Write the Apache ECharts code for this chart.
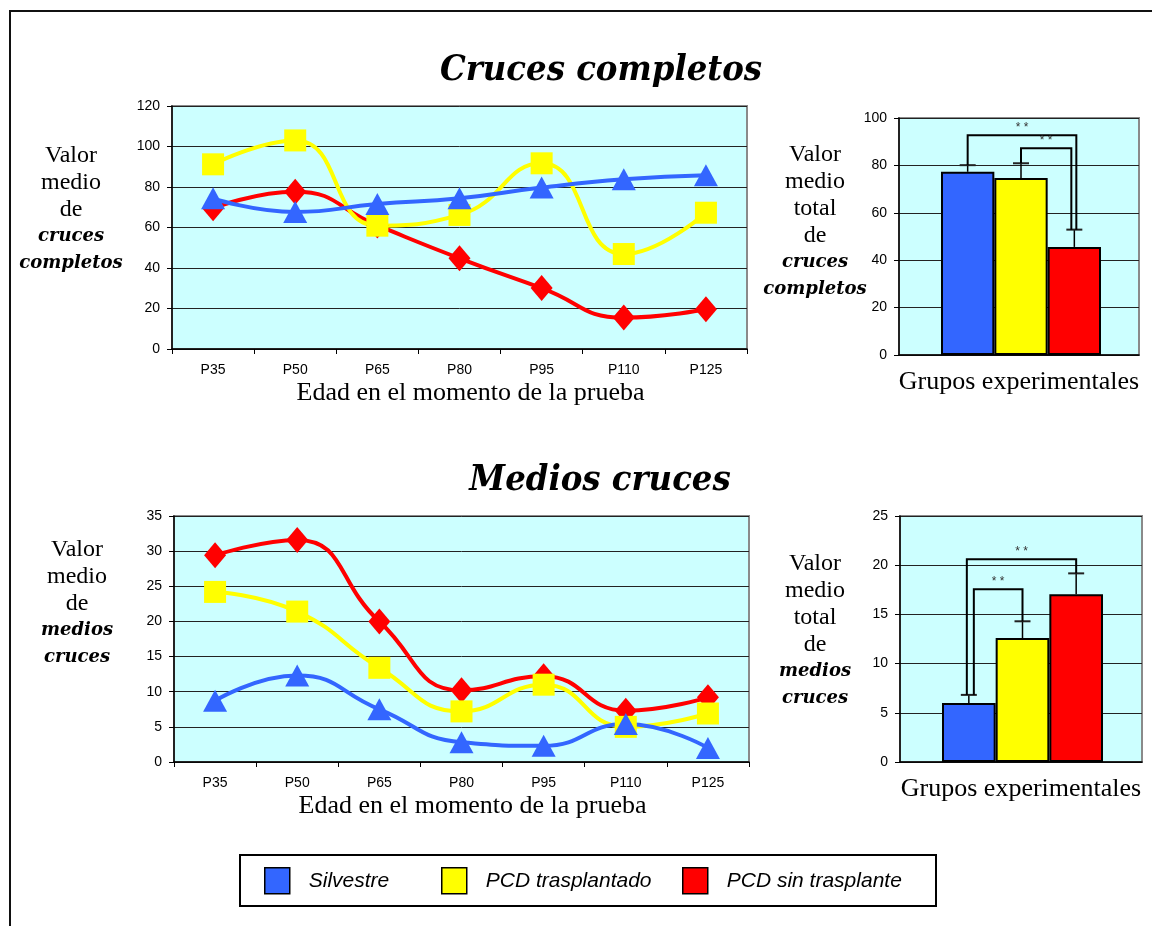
<!DOCTYPE html>
<html>
<head>
<meta charset="utf-8">
<script src="https://cdn.jsdelivr.net/npm/echarts@6/dist/echarts.min.js"></script>
<style>html,body{margin:0;padding:0;background:#fff}#c{width:1152px;height:926px}</style>
</head>
<body>
<div id="c"></div>
<script>
// ---- data ----
const categories = ['P35', 'P50', 'P65', 'P80', 'P95', 'P110', 'P125'];
const groups = ['Silvestre', 'PCD trasplantado', 'PCD sin trasplante'];

const completosSilvestre = [74.4, 67.7, 71.6, 74.4, 79.7, 83.8, 85.8];
const completosTrasplantado = [91.2, 103, 60.9, 66.2, 91.7, 46.9, 67.3];
const completosSinTrasplante = [69.5, 77.7, 61, 44.8, 30.1, 15.5, 19.6];

const mediosSilvestre = [8.7, 12.3, 7.5, 2.8, 2.3, 5.4, 2.0];
const mediosTrasplantado = [24.2, 21.4, 13.4, 7.2, 11.0, 5.0, 6.9];
const mediosSinTrasplante = [29.4, 31.6, 20.0, 10.2, 12.2, 7.3, 9.2];

const totalCompletos = [77.3, 74.7, 45.6];
const errorCompletos = [2.8, 6.2, 7.3];
const totalMedios = [6.0, 12.6, 17.05];
const errorMedios = [0.82, 1.7, 2.12];

// significance brackets: [fromGroup, toGroup, levelValue]
const bracketsCompletos = [[0, 2, 92.7], [1, 2, 87.2]];
const bracketsMedios = [[0, 2, 20.6], [0, 1, 17.55]];

// ---- styles ----
const colors = ['#3366FF', '#FFFF00', '#FF0000'];
const symbols = [['triangle', [24, 22]], ['rect', 22], ['diamond', [22, 26]]];
const bgColor = '#CCFFFF';
const serif = 'Liberation Serif';
const serifBI = 'DejaVu Serif';
const titleFont = 'DejaVu Serif Condensed';
const sans = 'Liberation Sans';
// pixel offsets of bracket ends [fromDx, toDx]
const bracketDxCompletos = [[0, 2], [0, -3]];
const bracketDxMedios = [[-2, 0], [5, 0]];

const chart = echarts.init(document.getElementById('c'), null, {renderer: 'canvas'});

function plotGrid(left, top, width, height) {
  return {left, top, width, height, show: true, backgroundColor: bgColor,
    borderColor: '#8a8a8a', borderWidth: 2, containLabel: false};
}
function hiddenGrid(left, top, width, height) {
  return {left, top, width, height, show: false, containLabel: false};
}

const axisLineStyle = {show: true, lineStyle: {color: '#000', width: 1.5}};
const tickLabel = {color: '#000', fontFamily: sans, fontSize: 14};

function lineXAxis(gridIndex) {
  return {type: 'category', gridIndex, data: categories, boundaryGap: true,
    axisLine: axisLineStyle,
    axisTick: {show: true, length: 5, lineStyle: {color: '#000'}},
    axisLabel: Object.assign({margin: 14}, tickLabel),
    name: 'Edad en el momento de la prueba', nameLocation: 'middle', nameGap: 31,
    nameTextStyle: {fontFamily: serif, fontSize: 26, color: '#000', padding: [0, 0, 0, 22]}};
}
function barBgXAxis(gridIndex) {
  return {type: 'category', gridIndex, data: [''],
    axisLine: axisLineStyle, axisTick: {show: false}, axisLabel: {show: false},
    name: 'Grupos experimentales', nameLocation: 'middle', nameGap: 14,
    nameTextStyle: {fontFamily: serif, fontSize: 26, color: '#000'}};
}
function valueYAxis(gridIndex, max, interval) {
  return {type: 'value', gridIndex, min: 0, max, interval,
    axisLine: axisLineStyle,
    axisTick: {show: true, length: 5, lineStyle: {color: '#000'}},
    axisLabel: Object.assign({margin: 12}, tickLabel),
    splitLine: {show: true, lineStyle: {color: '#222', width: 1}}};
}

function lineSeries(name, idx, axisIndex, data) {
  return {type: 'line', name, xAxisIndex: axisIndex, yAxisIndex: axisIndex, data,
    smooth: 0.5, symbol: symbols[idx][0], symbolSize: symbols[idx][1],
    lineStyle: {width: 4, color: colors[idx]}, itemStyle: {color: colors[idx]},
    showAllSymbol: true, animation: false};
}

function barSeries(axisIndex, values) {
  return {type: 'bar', name: 'total', xAxisIndex: axisIndex, yAxisIndex: axisIndex,
    barCategoryGap: '0%',
    data: values.map((v, i) => ({value: v, itemStyle: {color: colors[i]}})),
    itemStyle: {borderColor: '#000', borderWidth: 2}, animation: false};
}

function errorSeries(axisIndex, values, errors) {
  return {type: 'custom', xAxisIndex: axisIndex, yAxisIndex: axisIndex, z: 5,
    data: values.map((v, i) => [i, v, errors[i]]),
    encode: {x: 0, y: 1},
    renderItem: (params, api) => {
      const base = api.coord([api.value(0), api.value(1)]);
      const top = api.coord([api.value(0), api.value(1) + api.value(2)]);
      return {type: 'group', children: [
        {type: 'line', shape: {x1: base[0], y1: base[1], x2: top[0], y2: top[1]}, style: {stroke: '#000', lineWidth: 1.5}},
        {type: 'line', shape: {x1: top[0] - 8, y1: top[1], x2: top[0] + 8, y2: top[1]}, style: {stroke: '#222', lineWidth: 2}}
      ]};
    }};
}

function bracketSeries(axisIndex, values, errors, brackets, dxs) {
  return {type: 'custom', xAxisIndex: axisIndex, yAxisIndex: axisIndex, z: 6,
    data: brackets.map(b => [b[0], b[2], b[1]]),
    encode: {x: 0, y: 1},
    renderItem: (params, api) => {
      const from = api.value(0), level = api.value(1), to = api.value(2);
      const dx = dxs[params.dataIndex];
      const a = api.coord([from, values[from] + errors[from]]);
      const b = api.coord([to, values[to] + errors[to]]);
      const lv = api.coord([from, level])[1];
      const x1 = a[0] + dx[0], x2 = b[0] + dx[1];
      return {type: 'group', children: [
        {type: 'polyline', shape: {points: [[x1, a[1]], [x1, lv], [x2, lv], [x2, b[1]]]},
          style: {stroke: '#000', lineWidth: 2, fill: null}},
        {type: 'text', x: (x1 + x2) / 2, y: lv - 2,
          style: {text: '* *', align: 'center', verticalAlign: 'bottom', fontSize: 12, fontFamily: sans, fill: '#333'}}
      ]};
    }};
}

function yName(x, y, lines) {
  return {type: 'text', x, y, z: 10,
    style: {text: lines, align: 'center', verticalAlign: 'top',
      rich: {
        r: {fontFamily: serif, fontSize: 24, lineHeight: 27, fill: '#000', align: 'center'},
        b: {fontFamily: serifBI, fontSize: 18, fontStyle: 'italic', fontWeight: 'bold', lineHeight: 27, fill: '#000', align: 'center'}
      }}};
}

const titleStyle = {fontFamily: titleFont, fontStyle: 'italic', fontWeight: 'bold', fontSize: 36, color: '#000'};

const option = {
  animation: false,
  backgroundColor: '#fff',
  title: [
    {text: 'Cruces completos', left: 601, top: 53, textAlign: 'center', padding: 0, textStyle: titleStyle},
    {text: 'Medios cruces', left: 600, top: 463, textAlign: 'center', padding: 0, textStyle: titleStyle}
  ],
  grid: [
    plotGrid(172, 106, 575, 243),
    plotGrid(174, 516, 575, 246),
    plotGrid(899, 118, 240, 237),
    hiddenGrid(941, 118, 160, 237),
    plotGrid(900, 516, 242, 246),
    hiddenGrid(942, 516, 161, 246)
  ],
  xAxis: [
    lineXAxis(0), lineXAxis(1),
    barBgXAxis(2), {type: 'category', gridIndex: 3, data: groups, show: false},
    barBgXAxis(4), {type: 'category', gridIndex: 5, data: groups, show: false}
  ],
  yAxis: [
    valueYAxis(0, 120, 20), valueYAxis(1, 35, 5),
    valueYAxis(2, 100, 20), {type: 'value', gridIndex: 3, min: 0, max: 100, show: false},
    valueYAxis(4, 25, 5), {type: 'value', gridIndex: 5, min: 0, max: 25, show: false}
  ],
  legend: groups.map((g, i) => ({
    data: [{name: g, icon: 'rect', itemStyle: {color: colors[i], borderColor: '#000', borderWidth: 1.5}}],
    left: [264, 441, 682][i], top: 867, padding: 0, itemWidth: 25, itemHeight: 26,
    selectedMode: false,
    textStyle: {fontFamily: sans, fontStyle: 'italic', fontSize: 21, color: '#000', padding: [0, 0, 0, 14]}
  })),
  graphic: [
    {type: 'rect', shape: {x: 10, y: 11, width: 1200, height: 1000}, style: {fill: 'transparent', stroke: '#111', lineWidth: 2}, z: -1},
    {type: 'rect', shape: {x: 240, y: 855, width: 696, height: 51}, style: {fill: 'transparent', stroke: '#000', lineWidth: 2}, z: -1},
    yName(71, 142, '{r|Valor}\n{r|medio}\n{r|de}\n{b|cruces}\n{b|completos}'),
    yName(815, 141, '{r|Valor}\n{r|medio}\n{r|total}\n{r|de}\n{b|cruces}\n{b|completos}'),
    yName(77, 536, '{r|Valor}\n{r|medio}\n{r|de}\n{b|medios}\n{b|cruces}'),
    yName(815, 550, '{r|Valor}\n{r|medio}\n{r|total}\n{r|de}\n{b|medios}\n{b|cruces}')
  ],
  series: [
    lineSeries(groups[2], 2, 0, completosSinTrasplante),
    lineSeries(groups[1], 1, 0, completosTrasplantado),
    lineSeries(groups[0], 0, 0, completosSilvestre),
    lineSeries(groups[2], 2, 1, mediosSinTrasplante),
    lineSeries(groups[1], 1, 1, mediosTrasplantado),
    lineSeries(groups[0], 0, 1, mediosSilvestre),
    barSeries(3, totalCompletos),
    errorSeries(3, totalCompletos, errorCompletos),
    bracketSeries(3, totalCompletos, errorCompletos, bracketsCompletos, bracketDxCompletos),
    barSeries(5, totalMedios),
    errorSeries(5, totalMedios, errorMedios),
    bracketSeries(5, totalMedios, errorMedios, bracketsMedios, bracketDxMedios)
  ]
};
chart.setOption(option);
</script>
</body>
</html>
